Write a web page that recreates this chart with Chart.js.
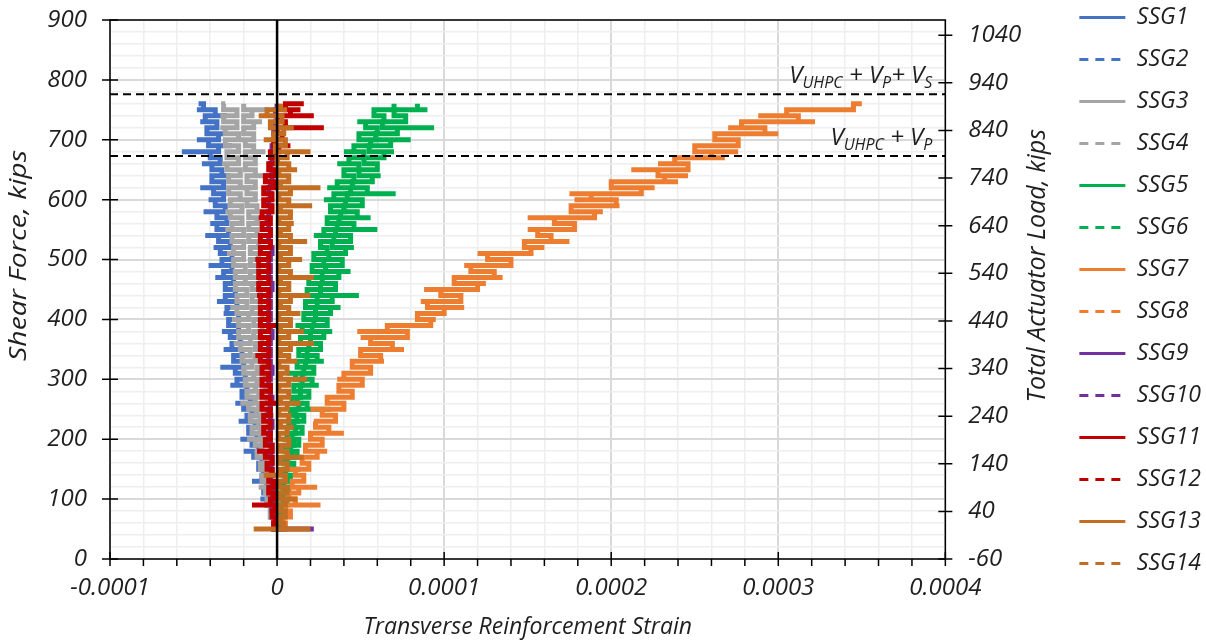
<!DOCTYPE html>
<html>
<head>
<meta charset="utf-8">
<title>Transverse Reinforcement Strain</title>
<script src="https://cdn.jsdelivr.net/npm/chart.js@4.4.1/dist/chart.umd.min.js"></script>
<style>
  html, body { margin: 0; padding: 0; background: #fff; }
  #wrap { width: 1206px; height: 643px; }
</style>
</head>
<body>
<div id="wrap"><canvas id="strainChart"></canvas></div>
<script>
// Shear force at each recorded load step, kips
const shearLoads = [
  50, 60, 70, 80, 90, 100, 110, 120, 130, 140, 150, 160,
  170, 180, 190, 200, 210, 220, 230, 240, 250, 260, 270, 280,
  290, 300, 310, 320, 330, 340, 350, 360, 370, 380, 390, 400,
  410, 420, 430, 440, 450, 460, 470, 480, 490, 500, 510, 520,
  530, 540, 550, 560, 570, 580, 590, 600, 610, 620, 630, 640,
  650, 660, 670, 680, 690, 700, 710, 720, 730, 740, 750, 760
];

// Gauge readings in microstrain, one per load step
const ssg1 = [
  -1, -2, -2, -4, -3, -6, -5, -8, -6, -9, -8, -11,
  -9, -14, -11, -15, -12, -17, -13, -18, -15, -20, -16, -21,
  -18, -24, -19, -25, -20, -26, -21, -27, -22, -28, -23, -29,
  -23, -30, -24, -31, -25, -31, -26, -32, -27, -33, -27, -34,
  -28, -35, -29, -36, -30, -36, -31, -37, -32, -38, -32, -39,
  -33, -39, -34, -40, -35, -41, -35, -42, -36, -43, -37, -44
];
const ssg3 = [
  -1, -2, -1, -4, -3, -6, -4, -7, -5, -9, -6, -10,
  -7, -12, -9, -13, -10, -15, -11, -16, -12, -17, -13, -18,
  -13, -19, -14, -20, -15, -21, -16, -22, -16, -23, -17, -23,
  -17, -24, -18, -24, -18, -25, -19, -25, -19, -26, -20, -26,
  -20, -27, -20, -27, -21, -28, -21, -28, -22, -29, -22, -29,
  -22, -30, -23, -30, -23, -31, -23, -31, -24, -32, -24, -32
];
const ssg4 = [
  0, -2, 0, -3, -1, -4, -2, -5, -2, -6, -3, -7,
  -3, -8, -4, -9, -5, -10, -5, -10, -6, -11, -6, -11,
  -7, -12, -7, -12, -8, -13, -8, -13, -9, -14, -9, -14,
  -9, -15, -10, -15, -10, -15, -10, -16, -11, -16, -11, -16,
  -11, -17, -12, -17, -12, -17, -12, -18, -13, -18, -13, -18,
  -13, -19, -13, -19, -14, -19, -14, -20, -14, -20, -15, -20
];
const ssg5 = [
  -1, 1, 0, 2, 1, 4, 2, 5, 3, 6, 4, 7,
  4, 9, 5, 10, 6, 11, 7, 12, 8, 13, 9, 14,
  10, 15, 11, 16, 12, 18, 13, 19, 14, 20, 15, 22,
  16, 23, 17, 24, 18, 26, 19, 27, 21, 28, 22, 30,
  26, 34, 28, 36, 30, 38, 32, 41, 34, 44, 36, 46,
  40, 49, 43, 52, 46, 56, 49, 60, 53, 64, 58, 70
];
const ssg6 = [
  0, 3, 1, 4, 2, 6, 3, 7, 4, 8, 5, 10,
  6, 12, 8, 13, 9, 15, 10, 16, 11, 18, 12, 19,
  14, 21, 15, 22, 17, 24, 18, 26, 20, 28, 21, 30,
  23, 32, 24, 33, 26, 35, 27, 37, 29, 39, 31, 41,
  33, 44, 35, 46, 37, 48, 40, 51, 42, 54, 45, 57,
  49, 60, 52, 64, 55, 68, 59, 72, 63, 77, 70, 84
];
const ssg7 = [
  1, 5, 3, 8, 5, 11, 7, 13, 9, 16, 11, 19,
  15, 24, 17, 27, 20, 31, 23, 35, 27, 40, 30, 45,
  37, 51, 40, 56, 45, 62, 50, 69, 56, 78, 66, 92,
  84, 100, 90, 110, 98, 120, 106, 130, 116, 140, 126, 152,
  148, 164, 156, 178, 166, 190, 176, 203, 188, 218, 200, 232,
  228, 246, 238, 260, 250, 276, 262, 292, 278, 312, 305, 345
];
const ssg9 = [
  -1, -2, -1, -2, -3, -2, -3, -2, -3, -4, -3, -4,
  -3, -4, -3, -4, -5, -4, -3, -4, -5, -4, -3, -4,
  -4, -5, -4, -3, -4, -5, -4, -5, -4, -3, -4, -5,
  -4, -5, -4, -5, -4, -3, -4, -5, -4, -5, -4, -3,
  -4, -5, -4, -5, -6, -5, -4, -5, -4, -5, -4, -3,
  -3, -4, -3, -2, -3, -2, -1, -2, -1, 0, -1, 0
];
const ssg11 = [
  0, -2, -1, -3, -1, -4, -2, -5, -2, -5, -3, -6,
  -3, -7, -3, -7, -4, -8, -4, -8, -4, -9, -4, -9,
  -4, -9, -5, -9, -5, -10, -5, -10, -5, -10, -5, -10,
  -5, -10, -5, -10, -5, -11, -5, -11, -5, -11, -5, -10,
  -4, -10, -4, -9, -4, -9, -3, -8, -3, -8, -2, -7,
  -1, -5, 0, -4, 1, -2, 3, 0, 5, 2, 8, 5
];
const ssg13 = [
  1, 4, 2, 5, 1, 5, 2, 6, 1, 5, 2, 6,
  1, 6, 2, 7, 1, 6, 2, 7, 1, 6, 2, 7,
  1, 7, 2, 6, 1, 7, 2, 8, 1, 7, 2, 8,
  1, 7, 2, 8, 1, 7, 2, 8, 1, 7, 2, 8,
  1, 8, 2, 7, 1, 8, 2, 7, 1, 8, 2, 7,
  1, 7, 0, 6, -1, 5, -2, 4, -4, 3, -6, 2
];

// Momentary excursions within a load step: [shear, microstrain]
const ssg1Spikes = [[100, -10], [130, -15], [180, -20], [200, -22], [230, -23], [240, -9],
  [260, -25], [290, -28], [320, -34], [350, -32], [370, -19], [380, -33], [400, -18],
  [410, -32], [430, -36], [450, -22], [470, -37], [490, -41], [520, -38], [540, -43],
  [550, -24], [560, -40], [580, -44], [600, -41], [620, -46], [640, -28], [660, -45],
  [680, -57], [690, -27], [700, -48], [710, -32], [730, -46], [740, -30], [750, -48], [760, -47]];
const ssg3Spikes = [[120, -11], [200, -18], [260, -22], [310, -9], [360, -26], [400, -27],
  [420, -28], [470, -14], [510, -30], [550, -31], [580, -31], [620, -15], [660, -33],
  [700, -20], [720, -34], [740, -34], [760, -31]];
const ssg4Spikes = [[150, -10], [240, -2], [300, -4], [330, -17], [400, -4], [460, -19],
  [500, -6], [540, -6], [600, -21], [640, -8], [680, -7], [730, -9], [750, -5]];
const ssg5Spikes = [[120, 8], [200, 3], [260, 16], [310, 6], [350, 23], [390, 11], [430, 28],
  [470, 15], [500, 34], [540, 22], [580, 42], [600, 28], [620, 30], [660, 36], [680, 40],
  [700, 61], [730, 48], [750, 72]];
const ssg6Spikes = [[150, 14], [250, 32], [290, 25], [330, 28], [380, 33], [420, 38], [440, 49],
  [480, 44], [520, 46], [550, 60], [570, 56], [610, 71], [640, 62], [680, 70], [700, 80],
  [720, 94], [750, 90]];
const ssg7Spikes = [[90, 26], [120, 24], [150, 6], [180, 30], [210, 40], [230, 22], [250, 20],
  [270, 45], [300, 36], [330, 64], [350, 76], [370, 50], [380, 48], [400, 95], [420, 112],
  [430, 86], [450, 88], [460, 125], [470, 135], [490, 112], [510, 120], [520, 160], [530, 175],
  [550, 150], [570, 150], [580, 195], [590, 205], [600, 178], [610, 175], [620, 226], [630, 240],
  [640, 246], [650, 212], [660, 228], [670, 268], [680, 276], [690, 250], [700, 262], [710, 300],
  [720, 270], [730, 322], [740, 288], [750, 336], [760, 350]];
const ssg9Spikes = [[50, 22], [560, -9], [640, -8]];
const ssg11Spikes = [[90, -15], [180, -12], [260, 2], [340, -13], [390, 1], [440, -12],
  [500, -13], [570, -11], [620, 0], [690, 8], [720, 28], [740, 22], [750, 14], [760, 16]];
const ssg13Spikes = [[50, 20], [50, -14], [100, 12], [140, -8], [170, 16], [220, 10], [260, 14],
  [300, 18], [330, 12], [360, 22], [380, 16], [410, 14], [440, 20], [470, 22], [500, 15],
  [530, 18], [560, 10], [590, 21], [620, 26], [650, 12], [680, 20], [700, -8], [720, 10],
  [740, -11], [750, 6]];

const gaugeNames = ['SSG1', 'SSG2', 'SSG3', 'SSG4', 'SSG5', 'SSG6', 'SSG7',
  'SSG8', 'SSG9', 'SSG10', 'SSG11', 'SSG12', 'SSG13', 'SSG14'];
const gaugeReadings = [ssg1, [], ssg3, ssg4, ssg5, ssg6, ssg7, [], ssg9, [], ssg11, [], ssg13, []];
const gaugeSpikes = [ssg1Spikes, [], ssg3Spikes, ssg4Spikes, ssg5Spikes, ssg6Spikes, ssg7Spikes,
  [], ssg9Spikes, [], ssg11Spikes, [], ssg13Spikes, []];
const gaugeColors = ['#4472C4', '#4472C4', '#A5A5A5', '#A5A5A5', '#00B050', '#00B050', '#ED7D31',
  '#ED7D31', '#7030A0', '#7030A0', '#C00000', '#C00000', '#C46E23', '#C46E23'];

// Axis ticks
const strainTicks = [-0.0001, 0, 0.0001, 0.0002, 0.0003, 0.0004];
const strainTickLabels = ['-0.0001', '0', '0.0001', '0.0002', '0.0003', '0.0004'];
const shearTicks = [0, 100, 200, 300, 400, 500, 600, 700, 800, 900];
const actuatorTicks = [-60, 40, 140, 240, 340, 440, 540, 640, 740, 840, 940, 1040];

// Section capacities, kips
const capacityLoads = [776, 673];
const capacityLabels = [
  [['V', false], ['UHPC', true], [' + V', false], ['P', true], ['+ V', false], ['S', true]],
  [['V', false], ['UHPC', true], [' + V', false], ['P', true]]
];

const MICRO = 1e-6;
const FONT = 'Open Sans';
const TEXT = '#1f1f1f';

// Even-numbered gauges are dashed in the key; with this many short
// segments the dash never shows on the traces themselves.
const keyDash = (i) => (i % 2 === 1 ? [9, 7] : []);

// Walk the load steps, dropping each excursion in at its own load so it
// draws as a short horizontal flick off the trace.
const buildPoints = (core, spikes) => {
  const pts = [];
  core.forEach((s, k) => {
    const load = shearLoads[k];
    pts.push({ x: s * MICRO, y: load });
    spikes.filter(([l]) => l === load).forEach(([, v]) => pts.push({ x: v * MICRO, y: load }));
  });
  return pts;
};

const datasets = gaugeNames.map((name, i) => ({
  label: name,
  data: buildPoints(gaugeReadings[i], gaugeSpikes[i]),
  borderColor: gaugeColors[i],
  backgroundColor: gaugeColors[i],
  borderWidth: 5,
  pointRadius: 0,
  stepped: true,
  order: gaugeNames.length - i // later gauges sit on top
}));

const isNear = (a, b) => Math.abs(a - b) < 1e-9;
const isMajorStrain = (v) => strainTicks.some((t) => isNear(v, t));

// zero line, capacity lines and their labels
const overlays = {
  id: 'overlays',
  afterDatasetsDraw(chart) {
    const { ctx, chartArea: a, scales } = chart;
    ctx.save();
    const x0 = scales.x.getPixelForValue(0);
    ctx.strokeStyle = '#000';
    ctx.lineWidth = 2.5;
    ctx.beginPath();
    ctx.moveTo(x0, a.top);
    ctx.lineTo(x0, a.bottom);
    ctx.stroke();

    ctx.lineWidth = 2;
    capacityLoads.forEach((load, i) => {
      const y = scales.y.getPixelForValue(load);
      ctx.setLineDash([8, 5]);
      ctx.beginPath();
      ctx.moveTo(a.left, y);
      ctx.lineTo(a.right, y);
      ctx.stroke();

      // label with subscripts, right aligned just above the line
      const parts = capacityLabels[i];
      const fontFor = (sub) => `italic ${sub ? 16 : 24}px "${FONT}"`;
      let width = 0;
      parts.forEach(([t, sub]) => { ctx.font = fontFor(sub); width += ctx.measureText(t).width; });
      let x = a.right - 13 - width;
      const base = y - 11;
      ctx.fillStyle = TEXT;
      ctx.textBaseline = 'alphabetic';
      ctx.textAlign = 'left';
      parts.forEach(([t, sub]) => {
        ctx.font = fontFor(sub);
        ctx.fillText(t, x, sub ? base + 5 : base);
        x += ctx.measureText(t).width;
      });
    });
    ctx.restore();
  },
  afterDraw(chart) {
    const { ctx, chartArea: a, scales } = chart;
    ctx.save();
    ctx.strokeStyle = '#000';
    ctx.lineWidth = 1.5;
    ctx.strokeRect(a.left, a.top, a.right - a.left, a.bottom - a.top);

    ctx.beginPath();
    scales.y.ticks.forEach((t) => {
      if (t.value % 100 !== 0) return;
      const y = scales.y.getPixelForValue(t.value);
      ctx.moveTo(a.left - 8, y);
      ctx.lineTo(a.left + 8, y);
    });
    scales.y2.ticks.forEach((t) => {
      const y = scales.y2.getPixelForValue(t.value);
      ctx.moveTo(a.right - 7, y);
      ctx.lineTo(a.right + 7, y);
    });
    scales.x.ticks.forEach((t) => {
      const x = scales.x.getPixelForValue(t.value);
      ctx.moveTo(x, isMajorStrain(t.value) ? a.bottom - 7 : a.bottom);
      ctx.lineTo(x, a.bottom + 7);
    });
    ctx.stroke();

    // vertical axis titles, both reading bottom to top
    const sideTitle = (text, x, y, size, stretch) => {
      ctx.save();
      ctx.translate(x, y);
      ctx.rotate(-Math.PI / 2);
      ctx.scale(stretch, 1);
      ctx.font = `italic ${size}px "${FONT}"`;
      ctx.fillStyle = TEXT;
      ctx.textAlign = 'center';
      ctx.textBaseline = 'middle';
      ctx.fillText(text, 0, 0);
      ctx.restore();
    };
    const h = a.bottom - a.top;
    sideTitle('Shear Force, kips', scales.y.left + 19, a.top + h * 0.437, 24, 1.18);
    sideTitle('Total Actuator Load, kips', scales.y2.right - 22, a.top + h * 0.456, 25, 1);
    ctx.restore();
  }
};

const tickFont = { family: FONT, size: 24, style: 'italic' };

new Chart(document.getElementById('strainChart'), {
  type: 'line',
  data: { datasets },
  options: {
    responsive: true,
    maintainAspectRatio: false,
    animation: false,
    layout: { padding: { top: -13, right: -5, bottom: 0, left: 0 } },
    scales: {
      x: {
        type: 'linear',
        min: -0.0001,
        max: 0.0004,
        afterBuildTicks: (scale) => {
          const ticks = [];
          for (let k = 0; k <= 25; k++) ticks.push({ value: -0.0001 + k * 0.00002 });
          scale.ticks = ticks;
        },
        afterFit: (scale) => { scale.height = 84; },
        ticks: {
          autoSkip: false,
          maxRotation: 0,
          padding: 15,
          color: TEXT,
          font: tickFont,
          callback: (v) => {
            const i = strainTicks.findIndex((t) => isNear(v, t));
            return i >= 0 ? strainTickLabels[i] : '';
          }
        },
        grid: {
          drawTicks: false,
          color: (c) => isMajorStrain(c.tick.value) ? '#d9d9d9' : '#eeeeee',
          lineWidth: (c) => isMajorStrain(c.tick.value) ? 2 : 1.5
        },
        border: { display: false },
        title: {
          display: true,
          text: 'Transverse Reinforcement Strain',
          color: TEXT,
          font: { family: FONT, size: 23, style: 'italic' },
          padding: { top: 0, bottom: 2 }
        }
      },
      y: {
        type: 'linear',
        position: 'left',
        min: 0,
        max: 900,
        afterBuildTicks: (scale) => {
          const ticks = [];
          for (let v = 0; v <= 900; v += 20) ticks.push({ value: v });
          scale.ticks = ticks;
        },
        afterFit: (scale) => { scale.width = 110; scale.paddingTop = 20; },
        ticks: {
          autoSkip: false,
          padding: 23,
          color: TEXT,
          font: tickFont,
          callback: (v) => shearTicks.includes(v) ? String(v) : ''
        },
        grid: {
          drawTicks: false,
          color: (c) => c.tick.value % 100 === 0 ? '#d9d9d9' : '#eeeeee',
          lineWidth: (c) => c.tick.value % 100 === 0 ? 2 : 1.5
        },
        border: { display: false }
      },
      y2: {
        type: 'linear',
        position: 'right',
        min: -60,
        max: 1072,
        afterBuildTicks: (scale) => { scale.ticks = actuatorTicks.map((v) => ({ value: v })); },
        afterFit: (scale) => { scale.width = 115; scale.paddingTop = 20; },
        ticks: {
          autoSkip: false,
          padding: 23,
          color: TEXT,
          font: tickFont,
          callback: (v) => String(v)
        },
        grid: { drawOnChartArea: false, drawTicks: false },
        border: { display: false }
      }
    },
    plugins: {
      tooltip: { enabled: false },
      legend: {
        position: 'right',
        align: 'start',
        labels: {
          usePointStyle: true,
          pointStyle: 'line',
          pointStyleWidth: 46,
          padding: 19,
          color: TEXT,
          font: { family: FONT, size: 23, style: 'italic' },
          sort: (a, b) => a.datasetIndex - b.datasetIndex,
          generateLabels: (chart) => {
            const items = Chart.defaults.plugins.legend.labels.generateLabels(chart);
            items.forEach((item) => {
              const ds = chart.data.datasets[item.datasetIndex];
              item.strokeStyle = ds.borderColor;
              item.lineDash = keyDash(item.datasetIndex);
              item.lineWidth = 3;
            });
            return items;
          }
        }
      }
    }
  },
  plugins: [overlays]
});
</script>
</body>
</html>
